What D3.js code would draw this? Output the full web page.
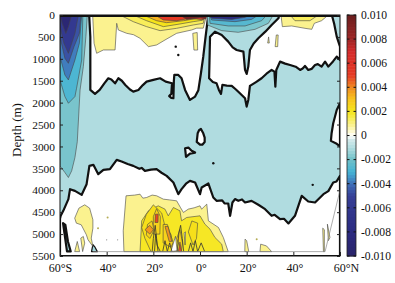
<!DOCTYPE html>
<html>
<head>
<meta charset="utf-8">
<script src="https://d3js.org/d3.v7.min.js"></script>
<style>
body { margin: 0; background: #fff; }
svg { display: block; }
text { font-family: "Liberation Serif", "Times New Roman", serif !important; fill: #111; }
.axis path { display: none; }
.axis line { stroke: #222; }
</style>
</head>
<body>
<div id="chart"></div>
<script>
// axis ticks
const latTicks = [-60, -40, -20, 0, 20, 40, 60];
const latLabels = ["60°S", "40°", "20°", "0°", "20°", "40°", "60°N"];
const depthTicks = [0, 500, 1000, 1500, 2000, 2500, 3000, 3500, 4000, 4500, 5000, 5500];
const barTicks = [0.010, 0.008, 0.006, 0.004, 0.002, 0, -0.002, -0.004, -0.006, -0.008, -0.010];

// colour scale
const barStops = [-0.010, -0.008, -0.005, -0.004, -0.003, -0.002, -0.001, -0.0003, 0, 0.0008, 0.002, 0.003, 0.004, 0.005, 0.007, 0.008, 0.010];
const barColors = ["#2a2468", "#2b2a80", "#363f96", "#3f6fb8", "#45b3d5", "#6fc0c8", "#b0dce0", "#d5ebec", "#ffffff", "#fbf39a", "#f5e61a", "#f8c51c", "#f08a1e", "#e53a24", "#d42a2a", "#9e2626", "#6b1f1f"];

// zero contour, the white areas. [lat, depth]
const whiteUpperLeft = [[-47.5,0],[-47,500],[-47,1710],[-45,1800],[-43,1710],[-41,1560],[-39.3,1444],[-38,1470],[-36.4,1560],[-35,1444],[-33.5,1500],[-32,1596],[-30,1700],[-28.6,1748],[-26.4,1710],[-24.5,1600],[-22.9,1520],[-20,1480],[-17.1,1444],[-14.7,1520],[-12,1558],[-12.3,1800],[-13.2,1850],[-12.3,1890],[-11.4,1900],[-11.2,1500],[-11,1368],[-9.3,1368],[-7.9,1444],[-6.4,1710],[-4.3,1938],[-2.1,1862],[-0.7,1716],[0.4,1330],[1.4,950],[2.4,494],[3.1,190],[3.6,0]];
const whiteUpperRight = [[4.3,494],[6.4,380],[9.3,456],[12.1,608],[14,740],[15.7,798],[18.6,836],[19.3,1254],[20,1345],[20.7,1178],[21.4,798],[23,650],[25,532],[28,380],[30.7,228],[33.6,76],[34,0],[56.5,0],[57.5,200],[58.6,494],[60,722],[60,1026],[58.6,950],[57,1060],[55,1178],[53.6,1064],[52.1,1178],[50.5,1120],[49.3,1140],[47.8,1230],[46.4,1254],[45,1163],[44,1220],[42.9,1254],[41,1180],[38.6,1140],[36.5,1110],[34.3,1064],[32.7,1254],[32.3,1634],[31.9,1292],[30.7,1254],[28.5,1340],[26.4,1444],[24,1530],[21.4,1619],[20.7,1938],[20,2090],[19.3,1900],[17.1,1786],[15.4,1700],[13.6,1619],[11.5,1610],[9.6,1596],[9,1800],[8.1,1710],[7.1,1558],[5.5,1530],[3.9,1444]];
const whiteLower = [[-60,4650],[-59.7,4583],[-58.6,4469],[-56.4,4203],[-55.7,3975],[-53.6,4013],[-50.7,4104],[-48.6,3861],[-47.4,3443],[-45.7,3420],[-43.6,3633],[-41.4,3534],[-38.6,3519],[-35.7,3306],[-33.6,3344],[-31,3400],[-28.6,3443],[-26,3510],[-25,3490],[-23.6,3557],[-21,3530],[-18.6,3519],[-16.5,3600],[-14.3,3671],[-11.4,3823],[-9.3,4089],[-7.9,3975],[-6,3850],[-4.3,3785],[-2.1,3823],[0,4089],[0.7,3937],[3.6,3846],[5.7,4165],[7.1,4241],[9.5,4230],[10.5,4300],[12.1,4302],[12.9,4583],[13.9,4279],[15,4200],[16.4,4241],[18,4210],[19.3,4279],[22.1,4241],[25,4330],[27.9,4431],[30.7,4583],[32,4560],[34.3,4659],[36,4650],[37.9,4757],[40.7,4583],[43.6,4127],[46.4,4256],[49.3,4279],[52.9,4089],[55,4020],[57.1,3823],[58.5,3800],[60,3671],[60,5500],[-60,5500]];
const whiteRightLens = [[60,2014],[58.6,2166],[57.1,2470],[56.4,2698],[56.1,2873],[58.6,2940],[60,3000]];
const whiteIslandA = [[-6.4,3040],[-5,3025],[-3.6,3100],[-2.1,3140],[-4.3,3162],[-6,3238]];
const whiteIslandB = [[-1.4,2895],[-1,2700],[-0.4,2630],[0.4,2600],[1.4,2700],[2,2800],[2,2900],[1,2960],[0,2960]];

// cold tongue on the southern edge
const coldA = [[-48.3,0],[-48.9,494],[-50,1178],[-51.4,1710],[-52.6,2895],[-53.6,3253],[-55,3557],[-56.4,3709],[-57.9,3595],[-60,3443],[-60,0]];
const coldB = [[-50.2,0],[-50.7,1026],[-52.9,1672],[-53.6,1862],[-56.4,2014],[-57.9,1862],[-60,1482],[-60,0]];
const coldC = [[-50.7,0],[-51.7,646],[-53.6,1026],[-56.4,1482],[-57.9,1368],[-60,950],[-60,0]];
const coldD = [[-51,0],[-51.7,418],[-54,722],[-56.4,1102],[-57.9,988],[-60,494],[-60,0]];
const coldE = [[-52.1,0],[-53.6,418],[-55,646],[-56.4,874],[-58.3,646],[-60,266],[-60,0]];
const coldF = [[-55,0],[-56.4,266],[-57.5,420],[-59,200],[-60,0]];
const coldBottom = [[-58.7,4750],[-57.7,4788],[-56.6,5168],[-55.4,5396],[-57,5396]];
const coldBottomB = [[-46.5,5400],[-45.9,5240],[-45,5300],[-44,5400]];

// surface cold layer north of the equator
const surfA = [[3,0],[3.3,230],[9.3,357],[16.4,395],[23.6,327],[29.3,190],[31.4,0]];
const surfB = [[4,0],[4.3,190],[12.1,250],[19.3,250],[26.4,130],[28.6,0]];
const surfC = [[4,0],[5,114],[15,152],[22.1,100],[25,0]];
const surfD = [[3.7,0],[5,76],[13.6,100],[19.3,53],[21.4,0]];

// warm surface layer
const warmA = [[-46,0],[-45.4,646],[-44.3,874],[-41.4,798],[-36.4,798],[-35.7,190],[-35,342],[-31.4,418],[-28.5,450],[-25.7,532],[-22.1,722],[-18.6,684],[-15,570],[-10,418],[-3.6,342],[-1.4,300],[1.4,300],[2.8,0]];
const warmStrip = [[-3.1,418],[-1.2,400],[-1,800],[-2.6,800]];
const warmB = [[-34.3,0],[-28.6,152],[-22.9,266],[-17.1,357],[-10,304],[-2.9,228],[1.4,190],[2.1,0]];
const warmC = [[-28.6,0],[-22.9,130],[-15.7,266],[-8.6,205],[-2.9,152],[1,120],[1.8,0]];
const warmD = [[-24.3,0],[-18.6,130],[-14.3,175],[-7,130],[-1.5,80],[1.6,0]];
const warmE = [[-19.3,0],[-15.7,114],[-10,130],[-4.3,76],[1.5,110],[2.8,0]];
const warmF = [[-8.6,0],[-5.7,100],[-2.5,80],[0,60],[2.5,90],[3,0]];
const warmNorth = [[34.7,0],[35.3,266],[39.3,250],[45,304],[47.9,327],[49,190],[52.1,130],[55,0]];
const warmNorthB = [[38.6,0],[40.7,130],[47.1,130],[50.7,0]];
const warmLensA = [[32.2,722],[32.7,456],[33.5,456],[33.3,722]];
const warmLensB = [[29,640],[29.4,500],[29.7,640]];

// warm patches at the bottom
const deepA = [[-32.6,5400],[-32.9,4925],[-31.7,4126],[-28,4110],[-25.7,4089],[-24.5,4180],[-22.9,4165],[-20.5,4110],[-18.6,4126],[-15.7,4203],[-13,4220],[-10,4241],[-8.3,4400],[-7.1,4506],[-5,4430],[-2.5,4400],[0,4355],[0.7,4431],[2.9,4317],[3.6,4697],[7.9,4848],[10,5077],[12.1,5400]];
const deepB = [[-25.7,5400],[-25,4697],[-22.1,4469],[-17.9,4355],[-15,4431],[-13.6,4583],[-11.4,4393],[-8.6,4469],[-7.9,4697],[-5.7,4621],[0,4583],[2.1,4773],[4.3,4887],[6.4,5077],[9.3,5229],[10,5400]];
const deepC = [[-23.6,5100],[-25,4850],[-23,4550],[-20,4332],[-16.4,4522],[-15,4826],[-12.5,5000],[-11,5400],[-21,5400]];
const deepD = [[-23,5020],[-22.5,4780],[-20.6,4700],[-19.6,4900],[-21.5,5100]];
const deepE = [[-20,5000],[-20,4600],[-18.6,4420],[-17,4600],[-17.2,5000]];
const deepF = [[-15.8,5200],[-15.8,4780],[-14,4780],[-11.5,5200],[-12.5,5300]];
const deepG = [[-8,5400],[-10,5100],[-8.6,4900],[-7.5,5200]];
const deepH = [[-5,4950],[-3.5,4700],[-1,4750],[-1.5,5100],[-3,5250]];
const deepCrossA = [[-23.6,4900],[-21.5,4800],[-20,4900],[-21.5,5000]];
const deepCrossB = [[-19.3,4735],[-19.1,4545],[-17.9,4545],[-18,4735]];
const deepCrossC = [[-15,4826],[-13.7,4826],[-12.1,5168],[-13.2,5168]];
const deepCrossD = [[-9.3,5400],[-8.6,5180],[-7.9,5400]];
const deepHoleA = [[-12.5,5400],[-10.5,5050],[-9.8,5380]];
const deepHoleB = [[-6.8,4970],[-6.2,4950],[-6.4,5250]];
const deepWestA = [[-53.7,4636],[-51.9,4408],[-49.4,4332],[-47.3,4408],[-45.9,4674],[-45.9,4864],[-46.6,5092],[-45.9,5282],[-48,5130],[-48.7,5016],[-50.9,4788],[-53,4750]];
const deepWestB = [[-53.7,5400],[-52.6,5168],[-51.6,5400]];
const deepWestC = [[-51.1,5092],[-50,5054],[-49.4,5206],[-50.3,5400]];
const deepEastA = [[19.2,5400],[19.3,5115],[20,5150],[20.9,5400]];
const deepEastB = [[25.7,5400],[26,5229],[28.5,5270],[30.7,5400]];
const deepEastC = [[52.9,5400],[52.6,4864],[53.3,4900],[53.3,5400]];
const deepEastD = [[54.6,4773],[55.7,5077],[55,5150]];

// dense contour lines close to the floor
const tangleA = [[-20.5,5400],[-20,5100],[-19.2,4800],[-18.6,5100],[-18,5400]];
const tangleB = [[-19.5,5400],[-19,5000],[-18.4,5250],[-17,5400]];
const tangleC = [[-16,5400],[-15,5150],[-14,5400],[-13,5200],[-12,5400]];
const tangleD = [[-9.8,5400],[-9,4950],[-8.3,4800],[-7.6,5100],[-7,5400]];
const tangleE = [[-5,5400],[-4,5200],[-3,5400],[-2,5150],[-1,5400],[0.5,5200],[2,5400]];

// floor line and small closed contours
const floorLine = [[-46,5400],[53.6,5400],[60,4000]];
const blackDots = [[-10.4,722],[-9.3,912],[5.7,3382],[48.3,3876]];
const yellowDots = [[-39.6,4620],[-43.7,4864],[24.3,5115]];
const greyDots = [[-40,5130],[-35.3,5130]];

const width = 395, height = 283;
const margin = {top: 15, right: 55, bottom: 27, left: 60};

const x = d3.scaleLinear().domain([-60, 60]).range([margin.left, width - margin.right]);
const y = d3.scaleLinear().domain([0, 5500]).range([margin.top, height - margin.bottom]);
const color = d3.scaleLinear().domain(barStops).range(barColors);
const barY = d3.scaleLinear().domain([0.010, -0.010]).range([margin.top, height - margin.bottom]);

const svg = d3.select("#chart").append("svg")
    .attr("width", width)
    .attr("height", height);

svg.append("clipPath").attr("id", "plot").append("rect")
    .attr("x", x(-60)).attr("y", y(0))
    .attr("width", x(60) - x(-60)).attr("height", y(5500) - y(0));

const g = svg.append("g").attr("clip-path", "url(#plot)");
const area = d3.line().x(d => x(d[0])).y(d => y(d[1])).curve(d3.curveLinearClosed);
const open = d3.line().x(d => x(d[0])).y(d => y(d[1]));

// the negative water is the background, everything else goes on top
g.append("rect")
    .attr("x", x(-60)).attr("y", y(0))
    .attr("width", x(60) - x(-60)).attr("height", y(5500) - y(0))
    .attr("fill", color(-0.001));

function band(points, level, lw, stroke) {
    g.append("path")
        .attr("d", area(points))
        .attr("fill", level === null ? "none" : color(level))
        .attr("stroke", stroke || "#444")
        .attr("stroke-width", lw || 0.6)
        .attr("stroke-linejoin", "round");
}

const thick = 2.2;
[whiteUpperLeft, whiteUpperRight, whiteLower, whiteRightLens, whiteIslandA, whiteIslandB].forEach(p => band(p, 0, thick, "#111"));
band(coldBottom, -0.0012, thick, "#111");
band(coldBottomB, -0.0012, 1.2, "#111");

[[coldA, -0.00185], [coldB, -0.0028], [coldC, -0.0038], [coldD, -0.0046], [coldE, -0.0058], [coldF, -0.009]].forEach(d => band(d[0], d[1]));
[[surfA, -0.0018], [surfB, -0.0026], [surfC, -0.0036], [surfD, -0.008]].forEach(d => band(d[0], d[1]));

[[warmA, 0.0009], [warmStrip, 0.0009], [warmB, 0.0014], [warmC, 0.0021], [warmD, 0.0033], [warmE, 0.005], [warmF, 0.0095],
 [warmNorth, 0.0009], [warmNorthB, 0.0014], [warmLensA, 0.0009], [warmLensB, 0.0009]].forEach(d => band(d[0], d[1]));

[[deepA, 0.0009], [deepB, 0.0019], [deepC, 0.0022], [deepH, 0.0022], [deepD, 0.0026], [deepE, 0.0026],
 [deepF, 0.0026], [deepG, 0.0026], [deepCrossA, 0.0038], [deepCrossB, 0.0048], [deepCrossC, 0.0038], [deepCrossD, 0.0048],
 [deepHoleA, 0], [deepHoleB, 0],
 [deepWestA, 0.0009], [deepWestB, 0.0009], [deepWestC, 0.0009],
 [deepEastA, 0.0009], [deepEastB, 0.0009], [deepEastC, 0.0009], [deepEastD, 0.0009]].forEach(d => band(d[0], d[1]));

[tangleA, tangleB, tangleC, tangleD, tangleE].forEach(t => {
    g.append("path").attr("d", open(t))
        .attr("fill", "none").attr("stroke", "#333").attr("stroke-width", 0.8);
});

g.append("path").attr("d", open(floorLine))
    .attr("fill", "none").attr("stroke", "#888").attr("stroke-width", 0.7);

g.selectAll(".black").data(blackDots).enter().append("circle")
    .attr("cx", d => x(d[0])).attr("cy", d => y(d[1])).attr("r", 1.2).attr("fill", "#111");
g.selectAll(".yellow").data(yellowDots).enter().append("circle")
    .attr("cx", d => x(d[0])).attr("cy", d => y(d[1])).attr("r", 1).attr("fill", "#b5ad55");
g.selectAll(".grey").data(greyDots).enter().append("circle")
    .attr("cx", d => x(d[0])).attr("cy", d => y(d[1])).attr("r", 0.6).attr("fill", "#888");

// thick dark line along the surface
g.append("path").attr("d", open([[-60, 0], [60, 0]]))
    .attr("stroke", "#111").attr("stroke-width", 4);

// frame and axes
svg.append("rect")
    .attr("x", x(-60)).attr("y", y(0))
    .attr("width", x(60) - x(-60)).attr("height", y(5500) - y(0))
    .attr("fill", "none").attr("stroke", "#111").attr("stroke-width", 1);

const xAxis = svg.append("g").attr("class", "axis")
    .attr("transform", "translate(0," + y(5500) + ")")
    .call(d3.axisBottom(x).tickValues(latTicks).tickSize(-4).tickPadding(7).tickFormat((d, i) => latLabels[i]));
xAxis.selectAll("text").attr("font-size", 12).attr("dx", (d, i) => i === 6 ? 6 : (i === 0 ? 0 : 1));

svg.append("g").attr("class", "axis")
    .attr("transform", "translate(" + x(-60) + ",0)")
    .call(d3.axisLeft(y).tickValues(depthTicks).tickSize(-3).tickPadding(5))
    .call(a => a.selectAll("text").text(d => d).attr("font-size", 11.4));

svg.append("g").attr("class", "axis")
    .attr("transform", "translate(" + x(60) + ",0)")
    .call(d3.axisRight(y).tickValues(depthTicks).tickSize(-3).tickFormat(""));

svg.append("text")
    .attr("transform", "translate(21," + 130 + ") rotate(-90)")
    .attr("text-anchor", "middle")
    .attr("font-size", 13)
    .text("Depth (m)");

// colour bar
const barLeft = 347, barRight = 356;
const barSteps = d3.range(-0.010, 0.01, 0.00025);
svg.selectAll(".step").data(barSteps).enter().append("rect")
    .attr("x", barLeft)
    .attr("width", barRight - barLeft)
    .attr("y", d => barY(d + 0.00025))
    .attr("height", d => barY(d) - barY(d + 0.00025) + 0.5)
    .attr("fill", d => color(d + 0.000125));

svg.append("rect")
    .attr("x", barLeft).attr("y", barY(0.01))
    .attr("width", barRight - barLeft).attr("height", barY(-0.01) - barY(0.01))
    .attr("fill", "none").attr("stroke", "#222").attr("stroke-width", 0.8);

const barTickG = svg.selectAll(".bartick").data(barTicks).enter().append("g");
barTickG.append("line")
    .attr("x1", barLeft).attr("x2", barLeft + 2.5)
    .attr("y1", d => barY(d)).attr("y2", d => barY(d)).attr("stroke", "#111");
barTickG.append("line")
    .attr("x1", barRight - 2.5).attr("x2", barRight)
    .attr("y1", d => barY(d)).attr("y2", d => barY(d)).attr("stroke", "#111");
barTickG.append("text")
    .attr("x", 361)
    .attr("y", d => barY(d))
    .attr("dy", "0.33em")
    .attr("font-size", 11.6)
    .text(d => d === 0 ? "0" : d3.format(".3f")(d).replace("−", "-"));
</script>
</body>
</html>
